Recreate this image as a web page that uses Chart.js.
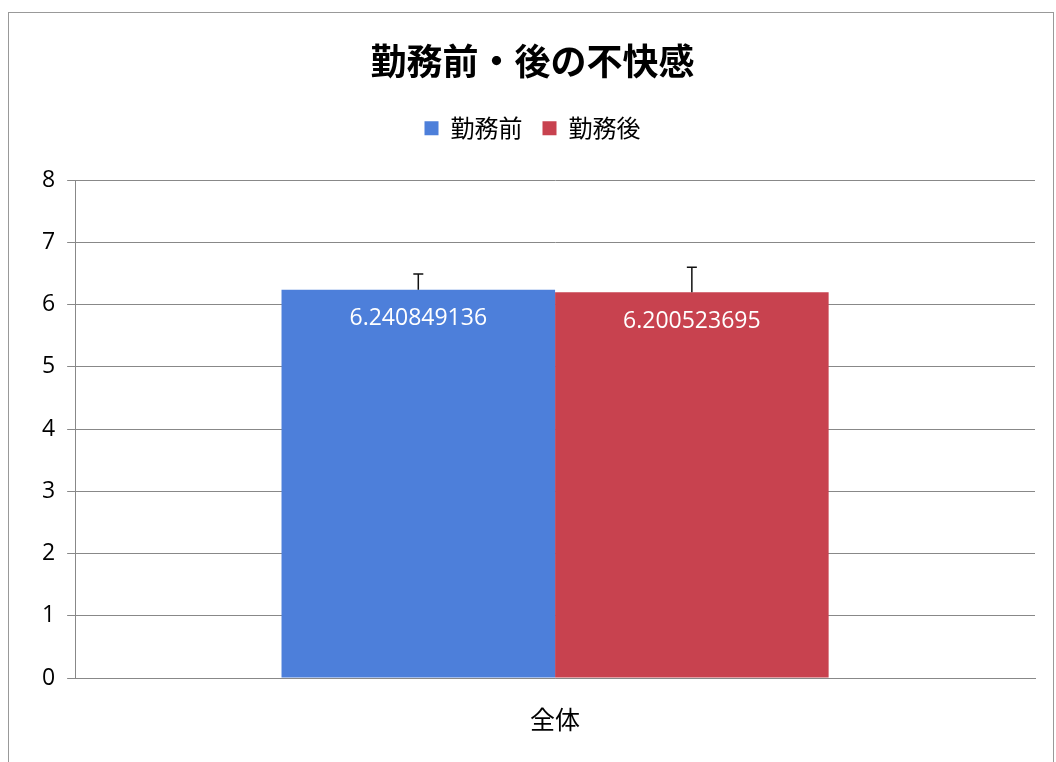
<!DOCTYPE html>
<html>
<head>
<meta charset="utf-8">
<script src="https://cdn.jsdelivr.net/npm/chart.js@4/dist/chart.umd.min.js"></script>
<style>
  body { margin: 0; background: #fff; }
  #wrap { position: relative; width: 1056px; height: 762px; }
  #frame { position: absolute; left: 8px; top: 12px; width: 1044px; height: 760px; border: 1px solid #999; }
  canvas { position: absolute; left: 0; top: 0; }
</style>
</head>
<body>
<div id="wrap">
  <div id="frame"></div>
  <canvas id="chart" width="1056" height="762"></canvas>
</div>
<script>
const categories = ['全体'];
const seriesNames = ['勤務前', '勤務後'];
const beforeValues = [6.240849136];
const afterValues = [6.200523695];
const beforeErrors = [0.25];
const afterErrors = [0.40];
const barColors = ['#4d7fda', '#c8424f'];

// white value labels at the top of each bar
const valueLabels = {
    id: 'valueLabels',
    afterDatasetsDraw(chart) {
        const ctx = chart.ctx;
        ctx.save();
        ctx.fillStyle = '#ffffff';
        ctx.font = '23px "Open Sans", sans-serif';
        ctx.textAlign = 'center';
        ctx.textBaseline = 'middle';
        chart.data.datasets.forEach((ds, i) => {
            chart.getDatasetMeta(i).data.forEach((bar, j) => {
                ctx.fillText(String(ds.data[j]), bar.x, bar.y + 29);
            });
        });
        ctx.restore();
    }
};

// plus-only error bars
const errorBars = {
    id: 'errorBars',
    afterDatasetsDraw(chart) {
        const ctx = chart.ctx;
        const y = chart.scales.y;
        ctx.save();
        ctx.strokeStyle = '#111';
        ctx.lineWidth = 1.5;
        chart.data.datasets.forEach((ds, i) => {
            chart.getDatasetMeta(i).data.forEach((bar, j) => {
                const top = y.getPixelForValue(ds.data[j] + ds.errors[j]);
                ctx.beginPath();
                ctx.moveTo(bar.x, bar.y);
                ctx.lineTo(bar.x, top);
                ctx.moveTo(bar.x - 5, top);
                ctx.lineTo(bar.x + 5, top);
                ctx.stroke();
            });
        });
        ctx.restore();
    }
};

// extra room under the legend
const legendGap = {
    id: 'legendGap',
    beforeInit(chart) {
        const fit = chart.legend.fit;
        chart.legend.fit = function () {
            fit.bind(chart.legend)();
            this.height += 30;
        };
    }
};

new Chart(document.getElementById('chart').getContext('2d'), {
    type: 'bar',
    data: {
        labels: categories,
        datasets: [
            { label: seriesNames[0], data: beforeValues, errors: beforeErrors, backgroundColor: barColors[0] },
            { label: seriesNames[1], data: afterValues, errors: afterErrors, backgroundColor: barColors[1] }
        ]
    },
    options: {
        responsive: false,
        animation: false,
        layout: { padding: { left: 30, right: 21, top: 40, bottom: 10 } },
        datasets: { bar: { barPercentage: 1, categoryPercentage: 0.57 } },
        plugins: {
            title: {
                display: true,
                text: '勤務前・後の不快感',
                color: '#000',
                font: { size: 36, weight: 'bold', family: '"Noto Sans CJK JP", sans-serif' },
                padding: { top: 0, bottom: 13 }
            },
            legend: {
                labels: {
                    color: '#000',
                    boxWidth: 14,
                    boxHeight: 14,
                    padding: 20,
                    font: { size: 24, family: '"Noto Sans CJK JP", sans-serif' }
                }
            },
            tooltip: { enabled: false }
        },
        scales: {
            x: {
                grid: { display: false },
                border: { color: '#888' },
                ticks: { color: '#000', padding: 18, font: { size: 25, family: '"Noto Sans CJK JP", sans-serif' } }
            },
            y: {
                min: 0,
                max: 8,
                ticks: { stepSize: 1, color: '#000', padding: 12, font: { size: 23, family: '"Open Sans", sans-serif' } },
                grid: { color: '#888', tickLength: 8 },
                border: { color: '#888' }
            }
        }
    },
    plugins: [valueLabels, errorBars, legendGap]
});
</script>
</body>
</html>
